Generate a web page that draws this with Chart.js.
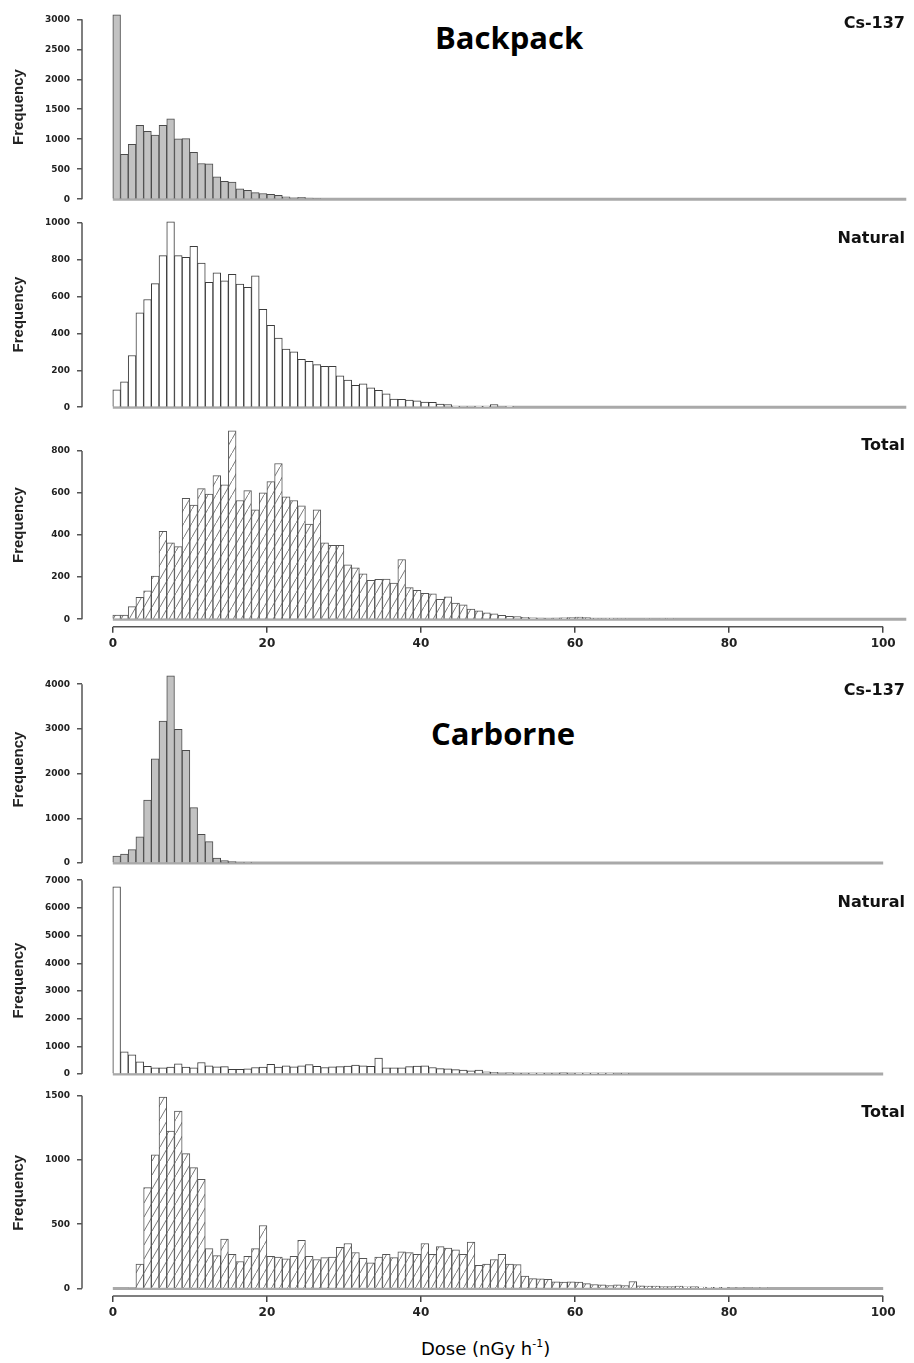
<!DOCTYPE html>
<html>
<head>
<meta charset="utf-8">
<script src="https://cdn.jsdelivr.net/npm/chart.js@4.4.1/dist/chart.umd.min.js"></script>
<style>
  html, body { margin: 0; padding: 0; background: #fff; }
  body { width: 914px; height: 1363px; position: relative; overflow: hidden; }
  canvas { position: absolute; left: 0; }
  .big { position: absolute; font-family: "Open Sans"; font-weight: 700; font-size: 31px; line-height: 31px; color: #000; }
  .tag { position: absolute; right: 9px; font-family: "DejaVu Sans"; font-weight: 700; font-size: 16px; line-height: 16px; color: #111; }
  .xtitle { position: absolute; left: 421px; top: 1340px; font-family: "DejaVu Sans"; font-size: 18px; line-height: 18px; color: #000; white-space: nowrap; }
  .xtitle span { font-size: 11px; position: relative; top: -8px; }
</style>
</head>
<body>
<div class="big" style="left:435px;top:22px">Backpack</div>
<div class="big" style="left:431px;top:718px">Carborne</div>
<div class="xtitle">Dose (nGy h<span>-1</span>)</div>
<script>
// dose bins are 1 nGy/h wide, starting at 0 (index = lower bin edge)
const doseTicks = [0, 20, 40, 60, 80, 100];
const panelLabels = ['Cs-137', 'Natural', 'Total', 'Cs-137', 'Natural', 'Total'];

const backpackCs137 = [3075, 750, 915, 1230, 1130, 1070, 1230, 1340, 1005, 1010, 780, 595, 590, 375, 300, 285, 175, 150, 110, 95, 80, 65, 40, 25, 30, 20, 15];
const backpackNatural = [94, 138, 280, 512, 584, 670, 822, 1005, 822, 813, 872, 781, 677, 729, 685, 720, 668, 650, 712, 531, 444, 374, 315, 300, 260, 248, 231, 222, 222, 170, 147, 118, 126, 105, 91, 73, 44, 43, 38, 35, 28, 26, 17, 14, 5, 2, 2, 5, 5, 14, 0, 5];
const backpackTotal = [19, 19, 60, 104, 135, 205, 418, 363, 345, 575, 543, 621, 596, 683, 640, 896, 565, 612, 520, 601, 655, 741, 582, 565, 539, 453, 520, 363, 352, 352, 259, 244, 216, 185, 190, 191, 172, 284, 150, 137, 123, 121, 95, 106, 76, 68, 48, 40, 30, 25, 18, 14, 12, 9, 6, 5, 4, 5, 6, 8, 10, 8, 4, 3, 2, 3, 3, 0, 0, 3, 0, 3, 3];
const carborneCs137 = [158, 200, 301, 588, 1412, 2330, 3176, 4186, 2989, 2523, 1240, 645, 480, 115, 57, 36, 20, 8];
const carborneNatural = [6760, 800, 700, 440, 280, 230, 230, 250, 370, 250, 230, 420, 300, 260, 270, 170, 170, 190, 240, 250, 350, 250, 300, 260, 300, 340, 280, 240, 260, 270, 290, 330, 300, 280, 575, 230, 230, 230, 270, 290, 300, 240, 200, 190, 160, 150, 120, 150, 80, 60, 40, 50, 15, 15, 12, 12, 15, 15, 50, 15, 12, 12, 10, 10, 12, 0, 15];
const carborneTotal = [0, 0, 5, 190, 785, 1040, 1490, 1225, 1380, 1050, 940, 850, 310, 255, 385, 265, 210, 250, 310, 490, 250, 245, 230, 250, 375, 250, 225, 240, 245, 320, 350, 280, 235, 200, 245, 265, 240, 285, 280, 265, 350, 265, 325, 315, 300, 265, 360, 180, 190, 225, 265, 190, 185, 97, 77, 75, 70, 51, 50, 52, 50, 38, 31, 28, 23, 28, 23, 54, 20, 18, 18, 15, 15, 18, 13, 15, 10, 8, 8, 8, 7, 6, 0, 6, 6];

const backpackCs137Ticks = [0, 500, 1000, 1500, 2000, 2500, 3000];
const backpackNaturalTicks = [0, 200, 400, 600, 800, 1000];
const backpackTotalTicks = [0, 200, 400, 600, 800];
const carborneCs137Ticks = [0, 1000, 2000, 3000, 4000];
const carborneNaturalTicks = [0, 1000, 2000, 3000, 4000, 5000, 6000, 7000];
const carborneTotalTicks = [0, 500, 1000, 1500];

function hatchPattern() {
  const c = document.createElement('canvas');
  c.width = 8; c.height = 14;
  const g = c.getContext('2d');
  g.fillStyle = '#fff';
  g.fillRect(0, 0, 8, 14);
  g.strokeStyle = '#7a7a7a';
  g.lineWidth = 1;
  g.beginPath();
  g.moveTo(-1, 15.75);
  g.lineTo(9, -1.75);
  g.stroke();
  return g.createPattern(c, 'repeat');
}

const styles = {
  cs: { backgroundColor: '#c2c2c2', borderColor: '#4b4b4b' },
  nat: { backgroundColor: '#ffffff', borderColor: '#3c3c3c' },
  tot: { backgroundColor: hatchPattern(), borderColor: '#555555' }
};

// chart area top/bottom in page pixels
const panels = [
  { values: backpackCs137, yTicks: backpackCs137Ticks, style: 'cs', top: 3.4, bottom: 210.4, xAxis: false, baseEnd: 103, labelTop: 15 },
  { values: backpackNatural, yTicks: backpackNaturalTicks, style: 'nat', top: 210.7, bottom: 418.3, xAxis: false, baseEnd: 103, labelTop: 230 },
  { values: backpackTotal, yTicks: backpackTotalTicks, style: 'tot', top: 419.5, bottom: 626.7, xAxis: true, baseEnd: 103, labelTop: 437 },
  { values: carborneCs137, yTicks: carborneCs137Ticks, style: 'cs', top: 664.1, bottom: 874.5, xAxis: false, baseEnd: 100, labelTop: 682 },
  { values: carborneNatural, yTicks: carborneNaturalTicks, style: 'nat', top: 875.1, bottom: 1085.1, xAxis: false, baseEnd: 100, labelTop: 894 },
  { values: carborneTotal, yTicks: carborneTotalTicks, style: 'tot', top: 1085.5, bottom: 1296.1, xAxis: true, baseEnd: 100, labelTop: 1104 }
];

const axisLines = {
  id: 'axisLines',
  beforeDatasetsDraw(chart, args, opts) {
    const { ctx, scales: { x, y } } = chart;
    const y0 = y.getPixelForValue(0);
    ctx.save();
    ctx.strokeStyle = '#a9a9a9';
    ctx.lineWidth = 3;
    ctx.beginPath();
    ctx.moveTo(x.getPixelForValue(0), y0);
    ctx.lineTo(x.getPixelForValue(opts.baseEnd), y0);
    ctx.stroke();
    ctx.restore();
  },
  afterDraw(chart) {
    const { ctx, chartArea, scales: { x, y } } = chart;
    const t = y.ticks;
    ctx.save();
    ctx.strokeStyle = '#555';
    ctx.lineWidth = 1.5;
    ctx.beginPath();
    ctx.moveTo(chartArea.left, y.getPixelForValue(t[0].value));
    ctx.lineTo(chartArea.left, y.getPixelForValue(t[t.length - 1].value));
    if (x.options.display) {
      ctx.moveTo(x.getPixelForValue(doseTicks[0]), x.top);
      ctx.lineTo(x.getPixelForValue(doseTicks[doseTicks.length - 1]), x.top);
    }
    ctx.stroke();
    ctx.restore();
  }
};

panels.forEach((p, i) => {
  const axisH = p.xAxis ? 30 : 0;
  const canvasTop = Math.floor(p.top - 8);
  const H = Math.ceil(p.bottom - canvasTop + axisH + (p.xAxis ? 2 : 8));
  const padBottom = H - axisH - (p.bottom - canvasTop);

  const cv = document.createElement('canvas');
  cv.width = 914;
  cv.height = H;
  cv.style.top = canvasTop + 'px';
  document.body.appendChild(cv);

  const tag = document.createElement('div');
  tag.className = 'tag';
  tag.style.top = p.labelTop + 'px';
  tag.textContent = panelLabels[i];
  document.body.appendChild(tag);

  const M = Math.max(...p.values);

  new Chart(cv, {
    type: 'bar',
    data: {
      datasets: [{
        data: p.values.map((v, k) => ({ x: k + 0.5, y: v })),
        backgroundColor: styles[p.style].backgroundColor,
        borderColor: styles[p.style].borderColor,
        borderWidth: 1,
        barPercentage: 1,
        categoryPercentage: 1
      }]
    },
    options: {
      responsive: false,
      animation: false,
      events: [],
      layout: { padding: { top: p.top - canvasTop, bottom: padBottom, left: 0, right: 0 } },
      plugins: {
        legend: { display: false },
        tooltip: { enabled: false },
        axisLines: { baseEnd: p.baseEnd }
      },
      scales: {
        x: {
          type: 'linear',
          display: p.xAxis,
          min: -4,
          max: 104,
          offset: false,
          afterBuildTicks: s => { s.ticks = doseTicks.map(v => ({ value: v })); },
          afterFit: s => { s.height = axisH; },
          border: { display: false },
          grid: { offset: false, drawOnChartArea: false, drawTicks: true, tickLength: 6, color: '#444', lineWidth: 1.5 },
          ticks: {
            autoSkip: false,
            maxRotation: 0,
            padding: 4,
            color: '#222',
            font: { family: 'DejaVu Sans', weight: 'bold', size: 12 },
            callback: v => String(v)
          }
        },
        y: {
          min: -0.04 * M,
          max: 1.04 * M,
          afterBuildTicks: s => { s.ticks = p.yTicks.map(v => ({ value: v })); },
          afterFit: s => { s.width = 82; },
          border: { display: false },
          grid: { drawOnChartArea: false, drawTicks: true, tickLength: 5, color: '#555', lineWidth: 1.5 },
          ticks: {
            autoSkip: false,
            padding: 7,
            color: '#222',
            font: { family: 'DejaVu Sans', weight: 'bold', size: 9 },
            callback: v => String(v)
          },
          title: {
            display: true,
            text: 'Frequency',
            color: '#222',
            padding: { top: 10, bottom: 0 },
            font: { family: 'Liberation Sans', weight: 'bold', size: 15 }
          }
        }
      }
    },
    plugins: [axisLines]
  });
});
</script>
</body>
</html>
